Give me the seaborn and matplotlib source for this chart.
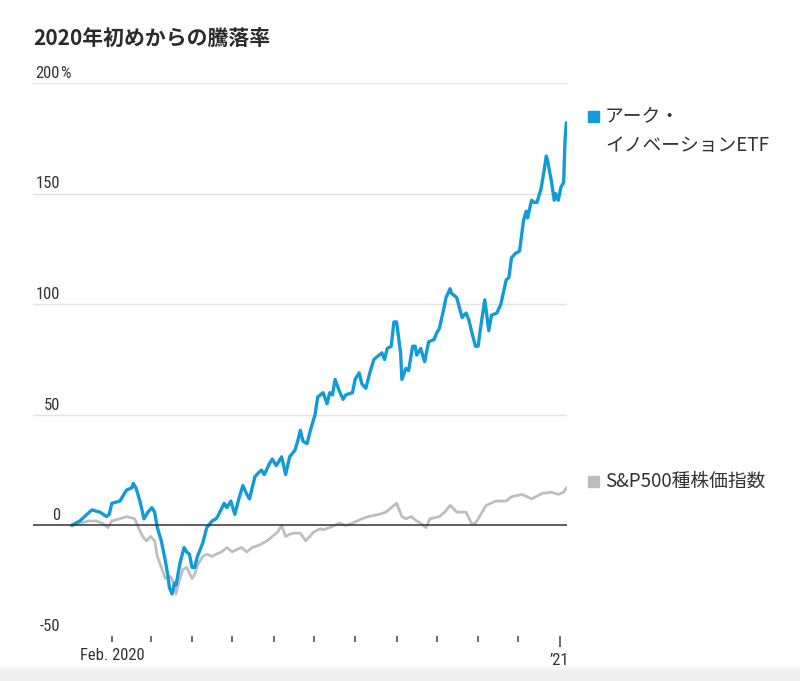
import matplotlib
matplotlib.use("Agg")
import matplotlib.pyplot as plt
import matplotlib.patches as mpatches
from matplotlib import font_manager
import numpy as np
import pandas as pd
import seaborn as sns

# ---------------- data ----------------
ark_dates = [
    "2020-01-02", "2020-01-08", "2020-01-17", "2020-01-23", "2020-01-28", "2020-01-30",
    "2020-02-01", "2020-02-07", "2020-02-12", "2020-02-16", "2020-02-17", "2020-02-19",
    "2020-02-22", "2020-02-25", "2020-02-28", "2020-03-02", "2020-03-04", "2020-03-06",
    "2020-03-09", "2020-03-12", "2020-03-14", "2020-03-15", "2020-03-17", "2020-03-19",
    "2020-03-20", "2020-03-23", "2020-03-26", "2020-03-28", "2020-03-30", "2020-04-01",
    "2020-04-03", "2020-04-05", "2020-04-09", "2020-04-12", "2020-04-16", "2020-04-19",
    "2020-04-21", "2020-04-25", "2020-04-27", "2020-04-30", "2020-05-03", "2020-05-06",
    "2020-05-09", "2020-05-12", "2020-05-14", "2020-05-18", "2020-05-21", "2020-05-23",
    "2020-05-25", "2020-05-29", "2020-05-31", "2020-06-03", "2020-06-07", "2020-06-10",
    "2020-06-13", "2020-06-17", "2020-06-19", "2020-06-21", "2020-06-23", "2020-06-26",
    "2020-06-29", "2020-07-02", "2020-07-04", "2020-07-08", "2020-07-11", "2020-07-13",
    "2020-07-15", "2020-07-17", "2020-07-20", "2020-07-23", "2020-07-25", "2020-07-30",
    "2020-08-01", "2020-08-04", "2020-08-06", "2020-08-09", "2020-08-12", "2020-08-15",
    "2020-08-19", "2020-08-21", "2020-08-23", "2020-08-25", "2020-08-28", "2020-08-30",
    "2020-09-01", "2020-09-04", "2020-09-05", "2020-09-08", "2020-09-10", "2020-09-13",
    "2020-09-15", "2020-09-16", "2020-09-19", "2020-09-22", "2020-09-25", "2020-09-29",
    "2020-10-01", "2020-10-03", "2020-10-06", "2020-10-08", "2020-10-11", "2020-10-12",
    "2020-10-16", "2020-10-20", "2020-10-23", "2020-10-25", "2020-10-27", "2020-10-30",
    "2020-11-01", "2020-11-03", "2020-11-06", "2020-11-09", "2020-11-11", "2020-11-15",
    "2020-11-18", "2020-11-22", "2020-11-24", "2020-11-26", "2020-11-29", "2020-12-02",
    "2020-12-05", "2020-12-07", "2020-12-08", "2020-12-11", "2020-12-13", "2020-12-15",
    "2020-12-18", "2020-12-20", "2020-12-22", "2020-12-23", "2020-12-26", "2020-12-28",
    "2020-12-29", "2020-12-31", "2021-01-02", "2021-01-04", "2021-01-05", "2021-01-06",
]
ark_values = [
    0, 2, 7, 6, 4, 5,
    10, 11, 16, 17, 19, 17,
    11, 3, 6, 8, 6, -1,
    -7, -16, -23, -28, -31, -26,
    -27, -17, -10, -12, -13, -19,
    -19, -14, -8, -1, 2, 3,
    5, 10, 8, 11, 5, 12,
    18, 14, 12, 22, 24, 25,
    23, 28, 30, 27, 31, 23,
    31, 34, 38, 43, 38, 37,
    44, 50, 58, 60, 55, 60,
    59, 66, 61, 57, 59, 60,
    66, 69, 64, 62, 69, 75,
    77, 78, 75, 80, 81, 92,
    92, 78, 66, 71, 70, 81,
    81, 77, 80, 74, 83, 84,
    87, 89, 97, 103, 107, 105,
    103, 94, 96, 93, 88, 81,
    81, 90, 102, 88, 95, 96,
    100, 111, 112, 121, 123, 124,
    138, 142, 139, 147, 146, 146,
    152, 159, 167, 165, 155, 147,
    150, 147, 153, 155, 174, 182,
]

spx_dates = [
    "2020-01-02", "2020-01-08", "2020-01-15", "2020-01-20", "2020-01-25", "2020-01-29",
    "2020-02-01", "2020-02-07", "2020-02-12", "2020-02-18", "2020-02-21", "2020-02-24",
    "2020-02-27", "2020-03-01", "2020-03-04", "2020-03-06", "2020-03-09", "2020-03-12",
    "2020-03-15", "2020-03-17", "2020-03-20", "2020-03-22", "2020-03-25", "2020-03-28",
    "2020-04-01", "2020-04-03", "2020-04-05", "2020-04-09", "2020-04-12", "2020-04-16",
    "2020-04-19", "2020-04-23", "2020-04-27", "2020-05-01", "2020-05-04", "2020-05-08",
    "2020-05-12", "2020-05-16", "2020-05-21", "2020-05-27", "2020-06-04", "2020-06-07",
    "2020-06-10", "2020-06-13", "2020-06-16", "2020-06-21", "2020-06-25", "2020-07-01",
    "2020-07-06", "2020-07-08", "2020-07-13", "2020-07-20", "2020-07-25", "2020-07-30",
    "2020-08-06", "2020-08-11", "2020-08-19", "2020-08-24", "2020-08-28", "2020-09-01",
    "2020-09-05", "2020-09-08", "2020-09-12", "2020-09-16", "2020-09-19", "2020-09-23",
    "2020-09-26", "2020-10-03", "2020-10-07", "2020-10-11", "2020-10-13", "2020-10-16",
    "2020-10-23", "2020-10-27", "2020-10-30", "2020-11-02", "2020-11-07", "2020-11-14",
    "2020-11-22", "2020-11-26", "2020-12-04", "2020-12-11", "2020-12-19", "2020-12-26",
    "2020-12-31", "2021-01-04", "2021-01-06",
]
spx_values = [
    0, 1, 2, 2, 1, -1,
    2, 3, 4, 3, -1, -5,
    -7, -5, -7, -14, -19, -24,
    -23, -24, -31, -26, -20, -19,
    -24, -22, -18, -14, -13, -14,
    -13, -12, -10, -12, -11, -10,
    -12, -10, -9, -7, -3, 0,
    -5, -4, -3.5, -3.5, -7, -3,
    -1.5, -2, -1, 1, 0, 1,
    3, 4, 5, 6, 8, 10,
    4, 3, 4, 2, 1, -1,
    3, 4, 6, 9, 8, 6,
    6, 1, 1, 4, 9, 11,
    11, 13, 14, 12, 14.5, 15,
    14, 15, 17,
]

legend_lines_ark = ["アーク・", "イノベーションETF"]
legend_spx = "S&P500種株価指数"
series_colors = ["#139bd9", "#bebebe"]
y_ticks = [-50, 0, 50, 100, 150, 200]
x_label_first = "Feb. 2020"
x_label_last = "\u201921"
title = "2020年初めからの騰落率"

# ---------------- fonts ----------------
available = {f.name for f in font_manager.fontManager.ttflist}
num_font = "DejaVu Sans"
for cand in ["Liberation Sans Narrow", "Roboto Condensed", "Open Sans Condensed",
             "Lato", "Liberation Sans"]:
    if cand in available:
        num_font = cand
        break
num_family = [num_font, "DejaVu Sans"]
num_size = 12 if "Narrow" in num_font or "Condensed" in num_font else 11

# ---------------- figure ----------------
sns.set_style("white")
plt.rcParams["font.family"] = ["Noto Sans CJK JP", "DejaVu Sans"]

W, H = 800, 681
fig = plt.figure(figsize=(W / 100, H / 100), dpi=100)
L, R, T, B = 33, 567, 83, 636
ax = fig.add_axes([L / W, 1 - B / H, (R - L) / W, (B - T) / H])

df_ark = pd.DataFrame({"date": pd.to_datetime(ark_dates), "value": ark_values})
df_spx = pd.DataFrame({"date": pd.to_datetime(spx_dates), "value": spx_values})

for v in y_ticks:
    if v == 0:
        continue
    ax.axhline(v, color="#e3e3e3", lw=1.0, zorder=0)

sns.lineplot(data=df_spx, x="date", y="value", ax=ax, color=series_colors[1],
             lw=2.0, zorder=2)
sns.lineplot(data=df_ark, x="date", y="value", ax=ax, color=series_colors[0],
             lw=2.4, zorder=3)
ax.axhline(0, color="#333333", lw=1.1, zorder=4)

ax.set_ylim(-50, 200)
ax.set_xlim(pd.Timestamp("2019-12-04"), pd.Timestamp("2021-01-06 12:00"))
for s in ax.spines.values():
    s.set_visible(False)
ax.set_xlabel("")
ax.set_ylabel("")
ax.set_yticks([])

# x ticks
minor = pd.date_range("2020-02-01", "2020-12-01", freq="MS")
ax.set_xticks(minor, minor=True)
ax.set_xticks([pd.Timestamp("2021-01-01")])
ax.set_xticklabels([x_label_last])
ax.tick_params(axis="x", which="both", bottom=True)
ax.tick_params(axis="x", which="minor", length=4, width=1.1, color="#444444",
               direction="out")
ax.tick_params(axis="x", which="major", length=8, width=1.1, color="#444444",
               direction="out", pad=4, labelsize=num_size, labelcolor="#333333")
for lab in ax.get_xticklabels():
    lab.set_family(num_family)
ax.text(pd.Timestamp("2020-02-01"), -55.5, x_label_first, ha="center", va="top",
        fontsize=num_size, color="#333333", family=num_family)

# y labels above gridlines, right aligned
xlab = (60 - L) / (R - L)
trans = ax.get_yaxis_transform()
for v in y_ticks:
    ax.text(xlab, v + 1.0, f"{v}", ha="right", va="bottom", transform=trans,
            fontsize=num_size, color="#333333", family=num_family)
ax.text(xlab, 200 + 1.0, "%", ha="left", va="bottom", transform=trans,
        fontsize=num_size, color="#333333", family=num_family)

# title
fig.text(33 / W, 1 - 38 / H, title, ha="left", va="center", fontsize=15,
         fontweight="bold", color="#2b2b2b")

# legend
fig.patches.append(mpatches.Rectangle((588 / W, 1 - 122 / H), 11 / W, 11 / H,
                                      transform=fig.transFigure, color=series_colors[0]))
fig.text(605 / W, 1 - 116 / H, legend_lines_ark[0], ha="left", va="center",
         fontsize=13.5, color="#333333")
fig.text(605 / W, 1 - 145 / H, legend_lines_ark[1], ha="left", va="center",
         fontsize=13.5, color="#333333")
fig.patches.append(mpatches.Rectangle((588 / W, 1 - 487 / H), 11 / W, 11 / H,
                                      transform=fig.transFigure, color=series_colors[1]))
fig.text(605 / W, 1 - 481 / H, legend_spx, ha="left", va="center",
         fontsize=13.5, color="#333333")

# bottom gray band (screenshot edge)
band = fig.add_axes([0, 0, 1, 16 / H])
grad = np.concatenate([np.linspace(0.0, 1.0, 7), np.ones(9)]).reshape(-1, 1)
band.imshow(grad, aspect="auto", cmap="Greys", vmin=0, vmax=7.5,
             extent=[0, 1, 0, 1], interpolation="bilinear")
band.axis("off")

fig.savefig("out.png", dpi=100)
